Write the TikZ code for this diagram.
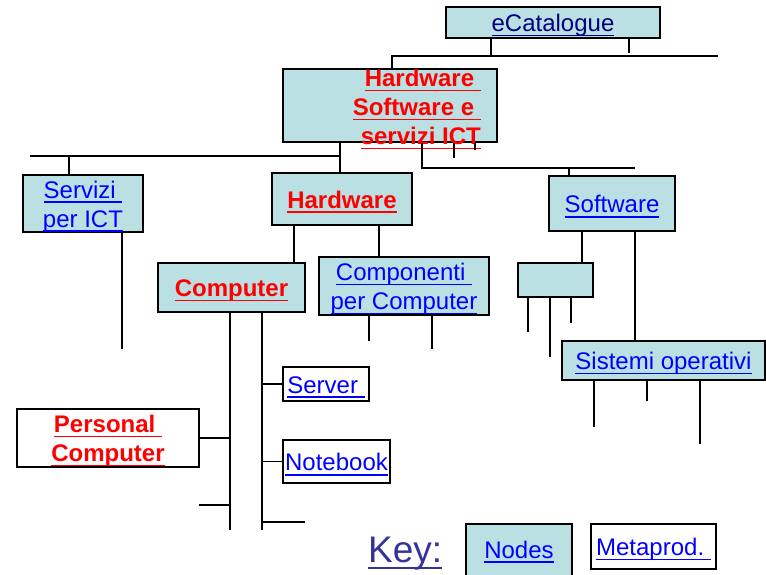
\documentclass[tikz,border=0pt]{standalone}
\usepackage{fontspec}
\setmainfont{Liberation Sans}
\definecolor{boxfill}{RGB}{187,224,227}
\definecolor{linkblue}{RGB}{0,0,255}
\definecolor{hotred}{RGB}{255,0,0}
\definecolor{navyblue}{RGB}{0,0,128}
\definecolor{keyblue}{RGB}{51,51,153}
\newsavebox\ulbox
\newcommand\myul[1]{\sbox\ulbox{#1}\rlap{\rule[-0.19em]{\wd\ulbox}{0.065em}}\usebox\ulbox}
\newcommand\tstrut{\rule{0pt}{23.5pt}}
\tikzset{
  box/.style={draw=black, line width=1.8pt, fill=boxfill, inner sep=0pt,
    font=\fontsize{24}{29}\selectfont, align=center},
  metabox/.style={box, fill=white},
  lnk/.style={text=linkblue},
  hot/.style={text=hotred, font=\fontsize{24}{29}\selectfont\bfseries},
  conn/.style={draw=black, line width=1.5pt}
}
\begin{document}
\begin{tikzpicture}[x=1pt,y=-1pt]
\useasboundingbox (0,0) rectangle (766,574);
\clip (0,0) rectangle (766,574);

% nodes
\node[box, minimum width=214, minimum height=31] (ecat) at (553,22.5) {\tstrut\color{navyblue}\myul{eCatalogue}};
\node[box, minimum width=214, minimum height=73] (hsw) at (390,105.5) {};
\node[hot, anchor=east, align=right, inner sep=0pt] (hswt) at (481,109.5)
  {\myul{Hardware\ }\\\myul{Software e\ }\\\myul{servizi ICT}};
\node[box, lnk, minimum width=120, minimum height=55] (serv) at (83,203.5) {\tstrut\myul{Servizi\ }\\\myul{per ICT}};
\node[box, hot, minimum width=140, minimum height=52] (hw) at (342,199) {\tstrut\myul{Hardware}};
\node[box, hot, minimum width=147, minimum height=49] (comp) at (231.5,287.5) {\tstrut\myul{Computer}};
\node[box, lnk, minimum width=170, minimum height=54] (compo) at (404,286) {\tstrut\myul{Componenti\ }\\\myul{per Computer}};
\node[box, lnk, minimum width=126, minimum height=55] (sw) at (612,203.5) {\tstrut\myul{Software}};
\node[box, minimum width=75, minimum height=34] (sbx) at (555.5,280) {};
\node[box, lnk, minimum width=203, minimum height=39] (sist) at (663.5,360.5) {\tstrut\myul{Sistemi operativi}};
\node[metabox, lnk, minimum width=86, minimum height=34] (srv) at (326,384) {\tstrut\myul{Server\ }};
\node[metabox, hot, minimum width=182, minimum height=58] (pc) at (108,438) {\tstrut\myul{Personal\ }\\\myul{Computer}};
\node[metabox, lnk, minimum width=107, minimum height=43] (nb) at (336.5,461.5) {\tstrut\myul{Notebook}};
\node[box, lnk, minimum width=106, minimum height=56] (knodes) at (519,552) {\myul{Nodes}};
\node[metabox, lnk, minimum width=125, minimum height=45] (kmeta) at (653.5,546.5) {\tstrut\myul{Metaprod.\ }};
\node[anchor=base west, inner sep=0pt, text=keyblue, font=\fontsize{37}{40}\selectfont] (key) at (368,562) {\myul{Key:}};

% junction and free-end coordinates
\coordinate (eb) at (491,56);
\coordinate (ebl) at (392,56);
\coordinate (ebr) at (718,56);
\coordinate (es) at (629,53);
\coordinate (lb) at (340,156);
\coordinate (lbl) at (30,156);
\coordinate (lbs) at (69,156);
\coordinate (rb) at (422,168);
\coordinate (rbr) at (635,168);
\coordinate (rbs) at (569,168);
\coordinate (hs1) at (454,158);
\coordinate (hs2) at (475,150);
\coordinate (sv) at (122,349);
\coordinate (hcx) at (294,240);
\coordinate (hkx) at (379,240);
\coordinate (ks1) at (369,341);
\coordinate (ks2) at (432,349);
\coordinate (cl) at (230,530);
\coordinate (cr) at (262,530);
\coordinate (cs1) at (199,505);
\coordinate (cs2) at (305,522);
\coordinate (sa) at (582,250);
\coordinate (sb) at (635,250);
\coordinate (x1) at (528,332);
\coordinate (x2) at (550,357);
\coordinate (x3) at (571,323);
\coordinate (y1) at (594,427);
\coordinate (y2) at (647,401);
\coordinate (y3) at (700,444);

% connectors
\draw[conn] (ecat.south -| eb) -- (eb);
\draw[conn] (ecat.south -| es) -- (es);
\draw[conn] (hsw.north -| ebl) -- (ebl) -- (ebr);

\draw[conn] (hsw.south -| lb) -- (hw.north -| lb);
\draw[conn] (lb) -- (lbl);
\draw[conn] (lbs) -- (serv.north -| lbs);

\draw[conn] (hsw.south -| rb) -- (rb) -- (rbr);
\draw[conn] (rbs) -- (sw.north -| rbs);
\draw[conn] (hsw.south -| hs1) -- (hs1);
\draw[conn] (hsw.south -| hs2) -- (hs2);

\draw[conn] (serv.south -| sv) -- (sv);

\draw[conn] (hw.south -| hcx) -- (comp.north -| hcx);
\draw[conn] (hw.south -| hkx) -- (compo.north -| hkx);
\draw[conn] (compo.south -| ks1) -- (ks1);
\draw[conn] (compo.south -| ks2) -- (ks2);

\draw[conn] (comp.south -| cl) -- (cl);
\draw[conn] (comp.south -| cr) -- (cr);
\draw[conn] (pc.east) -- (pc.east -| cl);
\draw[conn] (cs1) -- (cs1 -| cl);
\draw[conn] (srv.west) -- (srv.west -| cr);
\draw[conn] (nb.west) -- (nb.west -| cr);
\draw[conn] (cs2 -| cr) -- (cs2);

\draw[conn] (sw.south -| sa) -- (sbx.north -| sa);
\draw[conn] (sw.south -| sb) -- (sist.north -| sb);
\draw[conn] (sbx.south -| x1) -- (x1);
\draw[conn] (sbx.south -| x2) -- (x2);
\draw[conn] (sbx.south -| x3) -- (x3);
\draw[conn] (sist.south -| y1) -- (y1);
\draw[conn] (sist.south -| y2) -- (y2);
\draw[conn] (sist.south -| y3) -- (y3);
\end{tikzpicture}
\end{document}
